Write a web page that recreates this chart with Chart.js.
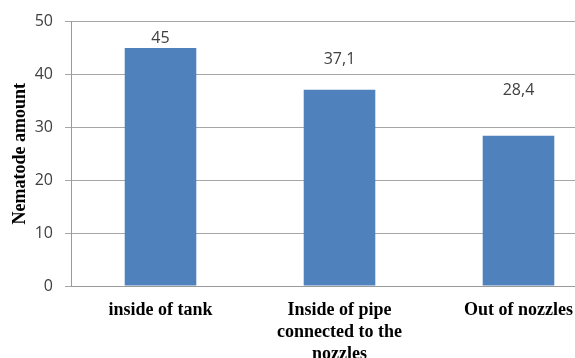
<!DOCTYPE html>
<html>
<head>
<meta charset="utf-8">
<script src="https://cdn.jsdelivr.net/npm/chart.js@4.4.1/dist/chart.umd.min.js"></script>
<style>
  html, body { margin: 0; padding: 0; background: #fff; overflow: hidden; }
  #wrap { width: 575px; height: 358px; overflow: hidden; }
</style>
</head>
<body>
<div id="wrap"><canvas id="barChart" width="612" height="380"></canvas></div>
<script>
const categories = [
  ["inside of tank"],
  ["Inside of pipe", "connected to the", "nozzles"],
  ["Out of nozzles"],
];
const nematodeAmount = [45, 37.1, 28.4];
const yTicks = [0, 10, 20, 30, 40, 50];

// the value labels in the original sit at uneven heights above the bars
const labelLift = [10, 30, 45];

const valueLabels = {
  id: "valueLabels",
  afterDatasetsDraw(chart) {
    const ctx = chart.ctx;
    const meta = chart.getDatasetMeta(0);
    ctx.save();
    ctx.font = "16px 'Open Sans', sans-serif";
    ctx.fillStyle = "#404040";
    ctx.textAlign = "center";
    ctx.textBaseline = "middle";
    meta.data.forEach((bar, i) => {
      const txt = String(nematodeAmount[i]).replace(".", ",");
      ctx.fillText(txt, bar.x, bar.y - labelLift[i]);
    });
    ctx.restore();
  },
};

new Chart(document.querySelector("#barChart"), {
  type: "bar",
  data: {
    labels: categories,
    datasets: [
      {
        label: "Nematode amount",
        data: nematodeAmount,
        backgroundColor: "#4f81bd",
        borderWidth: 0,
        barPercentage: 0.4,
        categoryPercentage: 1,
      },
    ],
  },
  options: {
    responsive: false,
    animation: false,
    layout: { padding: { left: 0, top: 7, right: 4, bottom: 0 } },
    plugins: {
      legend: { display: false },
      tooltip: { enabled: false },
    },
    scales: {
      x: {
        afterFit: (axis) => {
          axis.height = 94;
        },
        grid: { display: false, drawTicks: false },
        border: { color: "#9a9a9a", width: 1 },
        ticks: {
          padding: 13,
          maxRotation: 0,
          autoSkip: false,
          color: "#000",
          font: { family: "'Liberation Serif', serif", size: 18, weight: "bold", lineHeight: 1.22 },
        },
      },
      y: {
        min: 0,
        max: 50,
        afterBuildTicks: (axis) => {
          axis.ticks = yTicks.map((v) => ({ value: v }));
        },
        afterFit: (axis) => {
          axis.width = 71;
        },
        grid: { color: "#a6a6a6", lineWidth: 1, tickLength: 6 },
        border: { color: "#9a9a9a", width: 1 },
        ticks: {
          padding: 12,
          color: "#404040",
          font: { family: "'Open Sans', sans-serif", size: 16 },
        },
        title: {
          display: true,
          text: "Nematode amount",
          color: "#000",
          padding: { top: 10, bottom: 0 },
          font: { family: "'Liberation Serif', serif", size: 18, weight: "bold" },
        },
      },
    },
  },
  plugins: [valueLabels],
});
</script>
</body>
</html>
